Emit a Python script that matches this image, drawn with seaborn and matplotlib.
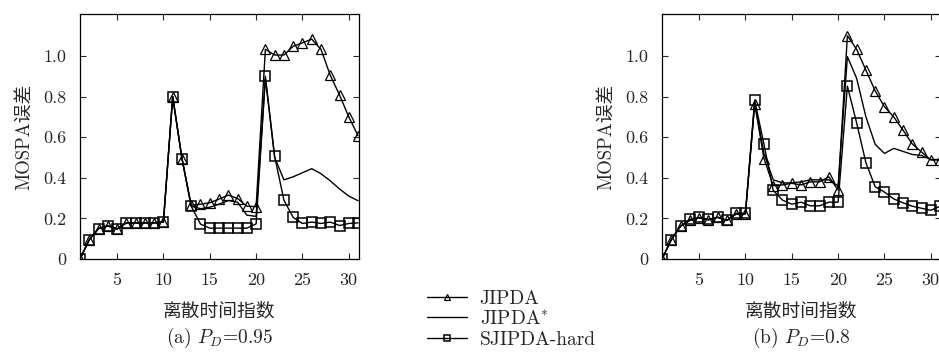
import numpy as np
import pandas as pd
import matplotlib
matplotlib.use("Agg")
import matplotlib.pyplot as plt
import seaborn as sns

# ---------------- data ----------------
steps = list(range(1, 32))

a_jipda = [0, 0.095, 0.15, 0.163, 0.148, 0.178, 0.178, 0.178, 0.178, 0.182,
           0.80, 0.495, 0.265, 0.27, 0.277, 0.295, 0.315, 0.298, 0.26, 0.258,
           1.033, 1.005, 1.005, 1.048, 1.065, 1.083, 1.033, 0.905, 0.808, 0.70, 0.607]
a_star = [0, 0.095, 0.15, 0.163, 0.148, 0.178, 0.178, 0.178, 0.178, 0.182,
          0.80, 0.495, 0.26, 0.248, 0.255, 0.27, 0.288, 0.28, 0.216, 0.21,
          0.89, 0.50, 0.39, 0.405, 0.425, 0.445, 0.42, 0.385, 0.345, 0.31, 0.287]
a_hard = [0, 0.095, 0.15, 0.163, 0.148, 0.178, 0.178, 0.178, 0.178, 0.182,
          0.80, 0.495, 0.26, 0.172, 0.152, 0.152, 0.152, 0.152, 0.152, 0.173,
          0.90, 0.505, 0.29, 0.205, 0.175, 0.182, 0.175, 0.182, 0.165, 0.175, 0.178]

b_jipda = [0, 0.095, 0.162, 0.19, 0.203, 0.193, 0.206, 0.19, 0.222, 0.222,
           0.766, 0.495, 0.362, 0.365, 0.373, 0.365, 0.38, 0.38, 0.405, 0.34,
           1.10, 1.033, 0.93, 0.828, 0.75, 0.70, 0.635, 0.567, 0.527, 0.488, 0.488]
b_star = [0, 0.095, 0.162, 0.19, 0.203, 0.193, 0.206, 0.19, 0.222, 0.222,
          0.77, 0.52, 0.39, 0.375, 0.375, 0.38, 0.39, 0.39, 0.39, 0.36,
          0.997, 0.89, 0.70, 0.565, 0.52, 0.545, 0.53, 0.515, 0.51, 0.49, 0.49]
b_hard = [0, 0.095, 0.162, 0.195, 0.205, 0.195, 0.205, 0.19, 0.225, 0.225,
          0.782, 0.565, 0.338, 0.29, 0.27, 0.28, 0.262, 0.262, 0.28, 0.28,
          0.852, 0.67, 0.474, 0.356, 0.33, 0.296, 0.277, 0.26, 0.25, 0.24, 0.26]

series_names = ["JIPDA", "JIPDA$^{*}$", "SJIPDA-hard"]
x_ticks = [5, 10, 15, 20, 25, 30]
y_ticks = [0, 0.2, 0.4, 0.6, 0.8, 1.0]
y_tick_labels = ["0", "0.2", "0.4", "0.6", "0.8", "1.0"]
x_label = "离散时间指数"
y_label = "MOSPA误差"
captions = ["(a) $P_D$=0.95", "(b) $P_D$=0.8"]

# ---------------- style ----------------
sns.set_style("ticks")
plt.rcParams["font.family"] = ["cmr10", "Noto Sans CJK SC", "DejaVu Sans"]
plt.rcParams["mathtext.fontset"] = "cm"
plt.rcParams["axes.formatter.use_mathtext"] = True
plt.rcParams["axes.unicode_minus"] = False
FS_TICK = 13
FS_LAB = 13.5
FS_CAP = 14
FS_LEG = 14

W, H = 939, 352
fig = plt.figure(figsize=(W / 100, H / 100), dpi=100)
ax1 = fig.add_axes([80 / W, 93 / H, 279 / W, 245 / H])
ax2 = fig.add_axes([662 / W, 93 / H, 279 / W, 245 / H])

panels = [(ax1, a_jipda, a_star, a_hard, captions[0]),
          (ax2, b_jipda, b_star, b_hard, captions[1])]

for ax, s1, s2, s3, cap in panels:
    sns.lineplot(x=steps, y=s1, ax=ax, color="black", linewidth=1.0,
                 marker="^", markersize=7, markerfacecolor="none",
                 markeredgecolor="black", markeredgewidth=0.9,
                 label=series_names[0])
    sns.lineplot(x=steps, y=s2, ax=ax, color="black", linewidth=1.0,
                 label=series_names[1])
    sns.lineplot(x=steps, y=s3, ax=ax, color="black", linewidth=1.0,
                 marker="s", markersize=7.5, markerfacecolor="none",
                 markeredgecolor="black", markeredgewidth=1.1,
                 label=series_names[2])
    ax.set_xlim(1, 31.1)
    ax.set_ylim(0, 1.207)
    ax.set_xticks(x_ticks)
    ax.set_xticklabels([str(t) for t in x_ticks], fontsize=FS_TICK)
    ax.set_yticks(y_ticks)
    ax.set_yticklabels(y_tick_labels, fontsize=FS_TICK)
    ax.tick_params(direction="in", length=4, width=0.8, top=True, right=True,
                   labeltop=False, labelright=False)
    ax.tick_params(axis="x", pad=10)
    ax.tick_params(axis="y", pad=10)
    for sp in ax.spines.values():
        sp.set_linewidth(0.9)
        sp.set_color("black")
    ax.set_xlabel(x_label, fontsize=FS_LAB)
    ax.xaxis.set_label_coords(0.5, -52 / 245)
    ax.xaxis.label.set_verticalalignment("center")
    ax.set_ylabel(y_label, fontsize=FS_LAB)
    ax.yaxis.set_label_coords(-56 / 279, 0.5)
    ax.yaxis.label.set_verticalalignment("center")
    ax.yaxis.label.set_horizontalalignment("center")
    pos = ax.get_position()
    fig.text(pos.x0 + pos.width / 2, 1 - 338 / H, cap, ha="center", va="center",
             fontsize=FS_CAP)

handles, labels = ax1.get_legend_handles_labels()
for ax in (ax1, ax2):
    lg = ax.get_legend()
    if lg is not None:
        lg.remove()

fig.legend(handles, labels, loc="upper left",
           bbox_to_anchor=(427 / W, 1 - 290 / H), frameon=False,
           fontsize=FS_LEG, handlelength=2.05, handletextpad=0.65,
           labelspacing=0.12, borderpad=0, borderaxespad=0, markerscale=0.6)

fig.savefig("out.png", dpi=100)
